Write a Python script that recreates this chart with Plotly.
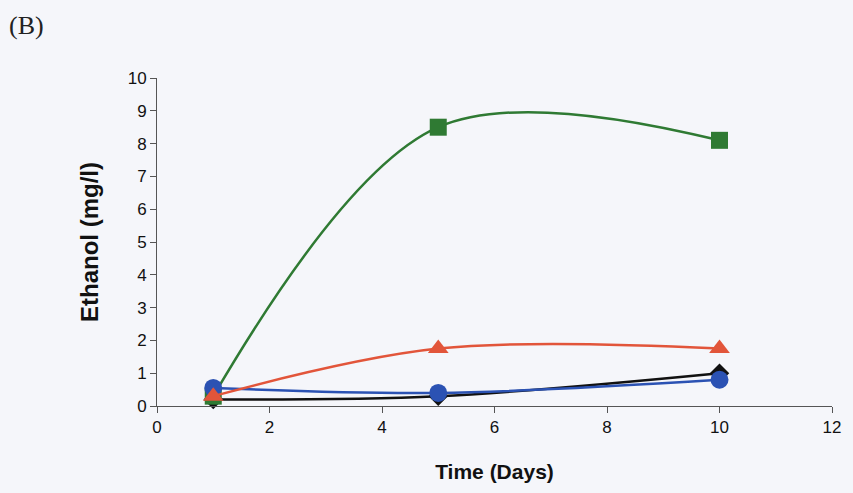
import plotly.graph_objects as go

# Sampling days
days = [1, 5, 10]

# Ethanol concentration (mg/l) per series
black_diamond = [0.2, 0.3, 1.0]
green_square = [0.3, 8.5, 8.1]
blue_circle = [0.55, 0.4, 0.8]
red_triangle = [0.3, 1.75, 1.75]

x_ticks = [0, 2, 4, 6, 8, 10, 12]
y_ticks = list(range(0, 11))

series = [
    (black_diamond, "#111111", "diamond", 15),
    (green_square, "#2f7a33", "square", 17),
    (blue_circle, "#2b52b3", "circle", 18),
    (red_triangle, "#e2553a", "triangle-up", 18),
]

fig = go.Figure()
for ys, color, symbol, size in series:
    fig.add_trace(go.Scatter(
        x=days, y=ys, mode="lines+markers",
        line=dict(color=color, width=2.5, shape="spline", smoothing=1.0),
        marker=dict(symbol=symbol, size=size, color=color),
        showlegend=False,
        cliponaxis=False,
    ))

bg = "#f5f6fa"
sans = "Arial, Liberation Sans, sans-serif"
axis_font = dict(family=sans, size=17, color="#111111")
fig.update_layout(
    width=853, height=493,
    margin=dict(l=157, r=12, t=78, b=87),
    paper_bgcolor=bg, plot_bgcolor=bg,
    xaxis=dict(
        range=[0, 12], tickvals=x_ticks, showgrid=False, zeroline=False,
        showline=True, linecolor="#555555", linewidth=1,
        ticks="outside", ticklen=6, tickcolor="#555555",
        tickfont=axis_font,
        title=dict(text="<b>Time (Days)</b>", font=dict(family=sans, size=21, color="#111111"), standoff=27),
    ),
    yaxis=dict(
        range=[0, 10], tickvals=y_ticks, showgrid=False, zeroline=False,
        showline=True, linecolor="#555555", linewidth=1,
        ticks="outside", ticklen=6, tickcolor="#555555",
        tickfont=axis_font,
        title=dict(text="<b>Ethanol (mg/l)</b>", font=dict(family=sans, size=24, color="#111111"), standoff=22),
    ),
    annotations=[dict(
        text="(B)", x=-0.222, y=1.21, xref="paper", yref="paper",
        xanchor="left", yanchor="top", showarrow=False,
        font=dict(family="Liberation Serif, Times New Roman, serif", size=26, color="#222222"),
    )],
)

fig.write_html("out.html")
